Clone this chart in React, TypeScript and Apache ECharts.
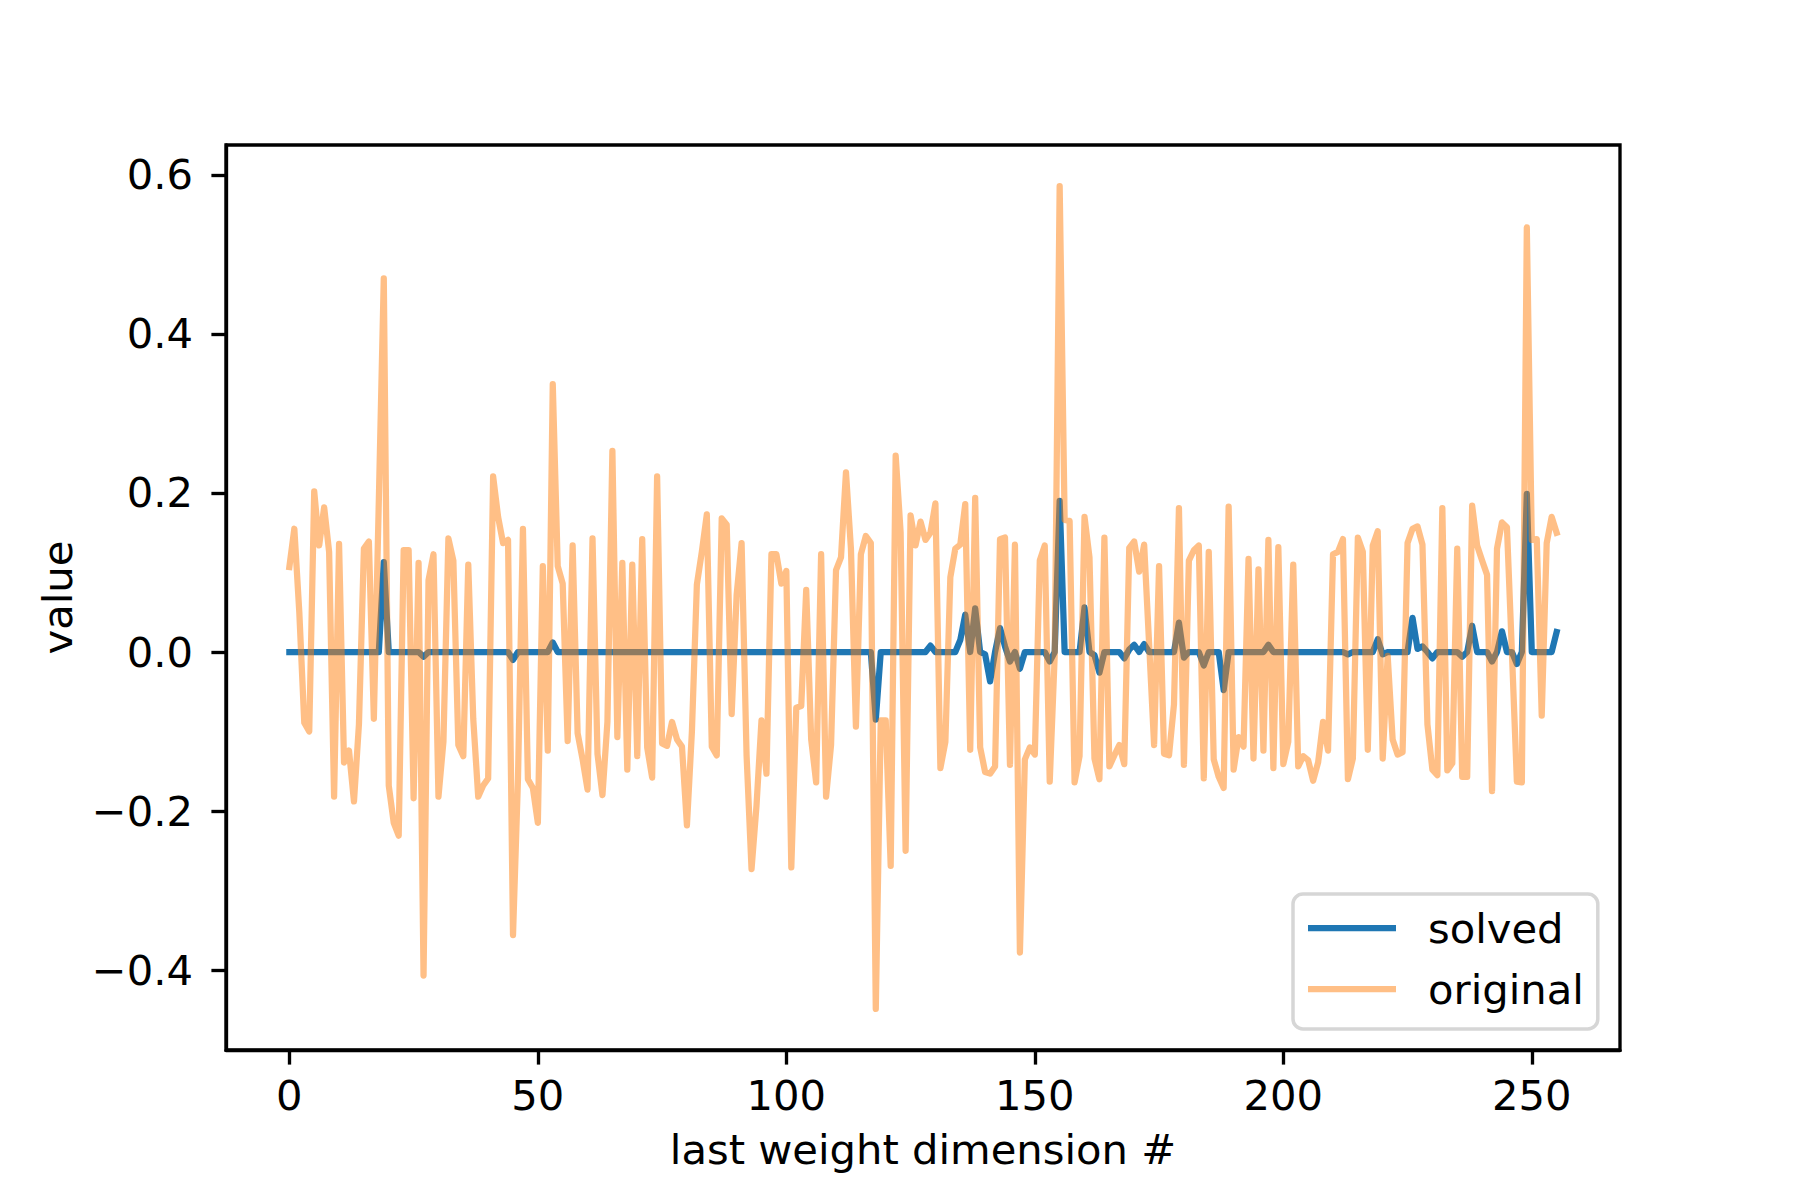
import React, { useEffect, useRef } from "react";
import * as echarts from "echarts";

const ORIGINAL: number[] = [
  0.107, 0.155, 0.05, -0.089, -0.1, 0.202, 0.134, 0.182, 0.126, -0.182,
  0.136, -0.139, -0.124, -0.188, -0.091, 0.13, 0.139, -0.084, 0.19, 0.47,
  -0.168, -0.215, -0.231, 0.128, 0.128, -0.184, 0.112, -0.407, 0.09, 0.123,
  -0.182, -0.113, 0.143, 0.115, -0.117, -0.131, 0.11, -0.084, -0.182, -0.168,
  -0.159, 0.221, 0.17, 0.137, 0.141, -0.356, -0.16, 0.155, -0.16, -0.171,
  -0.215, 0.108, -0.124, 0.337, 0.108, 0.086, -0.112, 0.134, -0.102, -0.135,
  -0.173, 0.143, -0.128, -0.18, -0.088, 0.253, -0.107, 0.112, -0.148, 0.11,
  -0.131, 0.142, -0.12, -0.158, 0.221, -0.115, -0.118, -0.088, -0.11, -0.119,
  -0.218, -0.1, 0.085, 0.126, 0.173, -0.119, -0.13, 0.168, 0.16, -0.078,
  0.072, 0.137, -0.13, -0.273, -0.193, -0.086, -0.153, 0.123, 0.123, 0.086,
  0.102, -0.271, -0.07, -0.068, 0.078, -0.11, -0.164, 0.123, -0.182, -0.117,
  0.103, 0.119, 0.226, 0.13, -0.094, 0.123, 0.146, 0.137, -0.449, -0.086,
  -0.086, -0.269, 0.247, 0.15, -0.25, 0.172, 0.134, 0.164, 0.141, 0.15,
  0.187, -0.146, -0.113, 0.094, 0.13, 0.135, 0.186, -0.123, 0.194, -0.12,
  -0.151, -0.153, -0.144, 0.142, 0.144, -0.142, 0.135, -0.378, -0.135, -0.12,
  -0.129, 0.115, 0.134, -0.163, -0.005, 0.586, 0.166, 0.165, -0.164, -0.131,
  0.17, 0.119, -0.134, -0.16, 0.144, -0.144, -0.13, -0.117, -0.141, 0.131,
  0.139, 0.101, 0.135, 0.01, -0.117, 0.108, -0.128, -0.13, -0.066, 0.181,
  -0.142, 0.115, 0.128, 0.134, -0.159, 0.126, -0.135, -0.157, -0.171, 0.183,
  -0.148, -0.107, -0.119, 0.117, -0.134, 0.104, -0.124, 0.141, -0.146, 0.132,
  -0.141, -0.113, 0.11, -0.144, -0.131, -0.136, -0.162, -0.139, -0.088, -0.124,
  0.123, 0.126, 0.142, -0.16, -0.134, 0.144, 0.126, -0.123, 0.134, 0.152,
  -0.134, -0.005, -0.11, -0.129, -0.126, 0.137, 0.155, 0.158, 0.135, -0.091,
  -0.148, -0.155, 0.181, -0.149, -0.14, 0.13, -0.157, -0.157, 0.184, 0.134,
  0.115, 0.097, -0.175, 0.13, 0.163, 0.157, 0.0, -0.163, -0.164, 0.534,
  0.141, 0.142, -0.08, 0.137, 0.17, 0.15,
];

// solved: zero everywhere except these dimensions
const SOLVED_NONZERO_IDX: number[] = [
  19, 27, 45, 53, 118, 129, 135, 136, 138, 140, 141, 143, 144, 145, 147, 153,
  155, 160, 162, 163, 168, 169, 170, 172, 179, 180, 184, 188, 197, 213, 219,
  220, 226, 227, 228, 230, 236, 238, 242, 244, 247, 249, 255,
];
const SOLVED_NONZERO_VAL: number[] = [
  0.113, -0.006, -0.01, 0.012, -0.085, 0.008, 0.015, 0.047, 0.055, -0.003,
  -0.037, 0.03, 0.007, -0.012, -0.021, -0.012, 0.19, 0.056, -0.004, -0.026,
  -0.008, 0.003, 0.009, 0.01, 0.037, -0.007, -0.017, -0.048, 0.009, -0.003,
  0.016, -0.003, 0.043, 0.004, 0.007, -0.008, -0.006, 0.033, -0.012, 0.026,
  -0.015, 0.199, 0.025,
];

const X_TICKS: number[] = [0, 50, 100, 150, 200, 250];
const Y_TICKS: number[] = [-0.4, -0.2, 0.0, 0.2, 0.4, 0.6];

const SERIES_NAMES = ["solved", "original"];
const X_LABEL = "last weight dimension #";
const Y_LABEL = "value";

const FONT = "DejaVu Sans";
const FS = 41.7;

export default function App() {
  const ref = useRef<HTMLDivElement>(null);

  useEffect(() => {
    document.body.style.margin = "0";
    if (!ref.current) return;
    const chart = echarts.init(ref.current, null, { renderer: "svg" });

    const solved: number[] = ORIGINAL.map(() => 0);
    SOLVED_NONZERO_IDX.forEach((idx, k) => {
      solved[idx] = SOLVED_NONZERO_VAL[k];
    });
    const solvedData = solved.map((v, i) => [i, v]);
    const origData = ORIGINAL.map((v, i) => [i, v]);

    const yFmt = (v: number) =>
      (v < -1e-9 ? "\u2212" : "") + Math.abs(v).toFixed(1);

    chart.setOption({
      animation: false,
      backgroundColor: "#ffffff",
      textStyle: { fontFamily: FONT },
      grid: {
        left: 226,
        top: 145,
        width: 1394,
        height: 905,
        show: true,
        borderColor: "#000",
        borderWidth: 3.33,
        outerBoundsMode: "none",
      },
      xAxis: {
        type: "value",
        min: -12.75,
        max: 267.75,
        name: X_LABEL,
        nameLocation: "middle",
        nameGap: 78,
        nameTextStyle: { fontSize: FS, color: "#000", fontFamily: FONT },
        splitLine: { show: false },
        axisLine: { show: true, onZero: false, lineStyle: { color: "#000", width: 3.33 } },
        axisTick: {
          show: true,
          length: 14.6,
          lineStyle: { color: "#000", width: 3.33 },
          customValues: X_TICKS,
        },
        axisLabel: {
          fontSize: FS,
          color: "#000",
          fontFamily: FONT,
          margin: 24,
          customValues: X_TICKS,
          formatter: (v: number) => String(Math.round(v)),
        },
      },
      yAxis: {
        type: "value",
        min: -0.5006,
        max: 0.6377,
        name: Y_LABEL,
        nameLocation: "middle",
        nameGap: 148,
        nameTextStyle: { fontSize: FS, color: "#000", fontFamily: FONT },
        splitLine: { show: false },
        axisLine: { show: true, onZero: false, lineStyle: { color: "#000", width: 3.33 } },
        axisTick: {
          show: true,
          length: 14.6,
          lineStyle: { color: "#000", width: 3.33 },
          customValues: Y_TICKS,
        },
        axisLabel: {
          fontSize: FS,
          color: "#000",
          fontFamily: FONT,
          margin: 33,
          customValues: Y_TICKS,
          formatter: yFmt,
        },
      },
      legend: {
        left: 1293,
        top: 894,
        orient: "vertical",
        backgroundColor: "#ffffff",
        borderColor: "#d6d6d6",
        borderWidth: 3.5,
        borderRadius: 10,
        padding: [9, 14, 15, 15],
        itemGap: 11,
        itemWidth: 88,
        itemHeight: 6.25,
        icon: "rect",
        textStyle: {
          fontSize: FS,
          color: "#000",
          fontFamily: FONT,
          lineHeight: 50,
          padding: [0, 0, 0, 27],
        },
        data: [
          { name: SERIES_NAMES[0], itemStyle: { color: "#1f77b4" } },
          { name: SERIES_NAMES[1], itemStyle: { color: "#ffbf86" } },
        ],
      },
      series: [
        {
          name: SERIES_NAMES[0],
          type: "line",
          data: solvedData,
          showSymbol: false,
          symbol: "none",
          color: "#1f77b4",
          lineStyle: { color: "#1f77b4", width: 6.25, join: "round", cap: "square" },
        },
        {
          name: SERIES_NAMES[1],
          type: "line",
          data: origData,
          showSymbol: false,
          symbol: "none",
          color: "#ffbf86",
          lineStyle: {
            color: "#ff7f0e",
            opacity: 0.5,
            width: 6.25,
            join: "round",
            cap: "square",
          },
        },
      ],
    });

    return () => {
      chart.dispose();
    };
  }, []);

  return <div ref={ref} style={{ width: 1800, height: 1200 }} />;
}
